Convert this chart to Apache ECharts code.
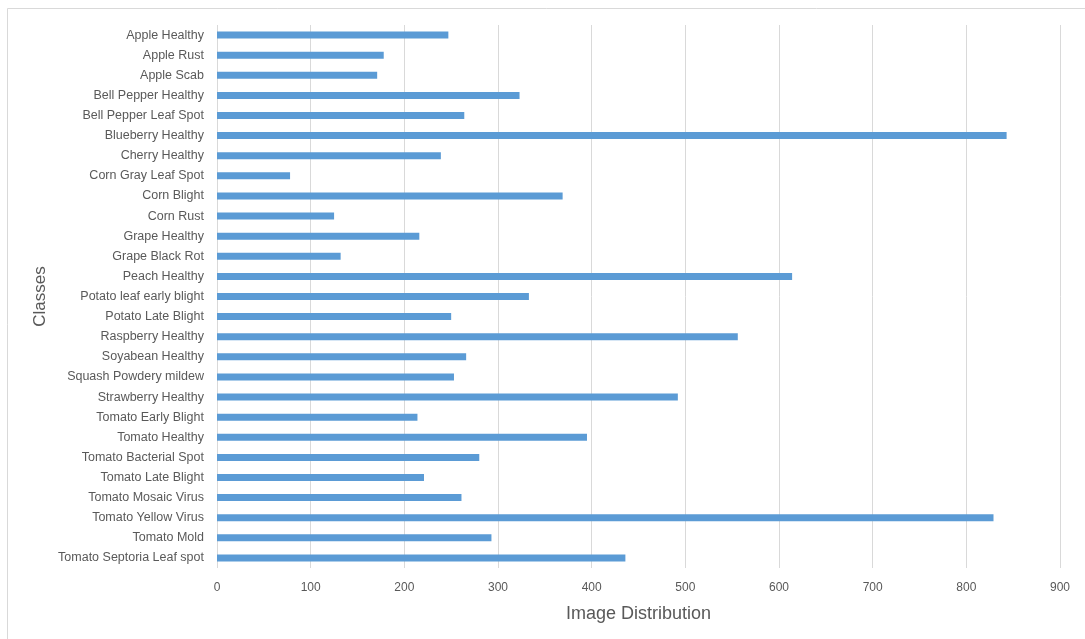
<!DOCTYPE html>
<html>
<head>
<meta charset="utf-8">
<script src="https://cdn.jsdelivr.net/npm/echarts@6/dist/echarts.min.js"></script>
<style>
  html, body { margin: 0; padding: 0; background: #ffffff; }
  #chart { width: 1085px; height: 639px; }
</style>
</head>
<body>
<div id="chart"></div>
<script>
// Plant disease classes and the number of images in each
const classes = [
  'Apple Healthy', 'Apple Rust', 'Apple Scab', 'Bell Pepper Healthy',
  'Bell Pepper Leaf Spot', 'Blueberry Healthy', 'Cherry Healthy',
  'Corn Gray Leaf Spot', 'Corn Blight', 'Corn Rust', 'Grape Healthy',
  'Grape Black Rot', 'Peach Healthy', 'Potato leaf early blight',
  'Potato Late Blight', 'Raspberry Healthy', 'Soyabean Healthy',
  'Squash Powdery mildew', 'Strawberry Healthy', 'Tomato Early Blight',
  'Tomato Healthy', 'Tomato Bacterial Spot', 'Tomato Late Blight',
  'Tomato Mosaic Virus', 'Tomato Yellow Virus', 'Tomato Mold',
  'Tomato Septoria Leaf spot'
];
const imageCounts = [
  247, 178, 171, 323, 264, 843, 239, 78, 369, 125, 216, 132, 614, 333,
  250, 556, 266, 253, 492, 214, 395, 280, 221, 261, 829, 293, 436
];
const xTicks = { min: 0, max: 900, interval: 100 };

const font = 'Liberation Sans, Arial, sans-serif';
const chart = echarts.init(document.getElementById('chart'), null, { renderer: 'canvas' });

chart.setOption({
  backgroundColor: '#ffffff',
  animation: false,
  graphic: [{
    type: 'rect',
    shape: { x: 7.5, y: 8.5, width: 1090, height: 640 },
    style: { fill: 'none', stroke: '#d9d9d9', lineWidth: 1 },
    z: -1
  }],
  grid: { left: 217, right: 25, top: 25, bottom: 71, containLabel: false },
  xAxis: {
    type: 'value',
    min: xTicks.min,
    max: xTicks.max,
    interval: xTicks.interval,
    name: 'Image Distribution',
    nameLocation: 'middle',
    nameGap: 37,
    nameTextStyle: { fontFamily: font, fontSize: 18, color: '#595959' },
    axisLine: { show: false },
    axisTick: { show: false },
    axisLabel: { fontFamily: font, fontSize: 12, color: '#595959', margin: 14 },
    splitLine: { show: true, lineStyle: { color: '#d9d9d9', width: 1 } }
  },
  yAxis: {
    type: 'category',
    data: classes,
    inverse: true,
    name: 'Classes',
    nameLocation: 'middle',
    nameGap: 168,
    nameMoveOverlap: false,
    nameRotate: 90,
    nameTextStyle: { fontFamily: font, fontSize: 17, color: '#595959' },
    axisLine: { show: false },
    axisTick: { show: false },
    axisLabel: { fontFamily: font, fontSize: 12.5, color: '#595959', margin: 13 },
    splitLine: { show: false }
  },
  series: [{
    type: 'bar',
    data: imageCounts,
    barWidth: 7,
    itemStyle: { color: '#5b9bd5' }
  }]
});
</script>
</body>
</html>
